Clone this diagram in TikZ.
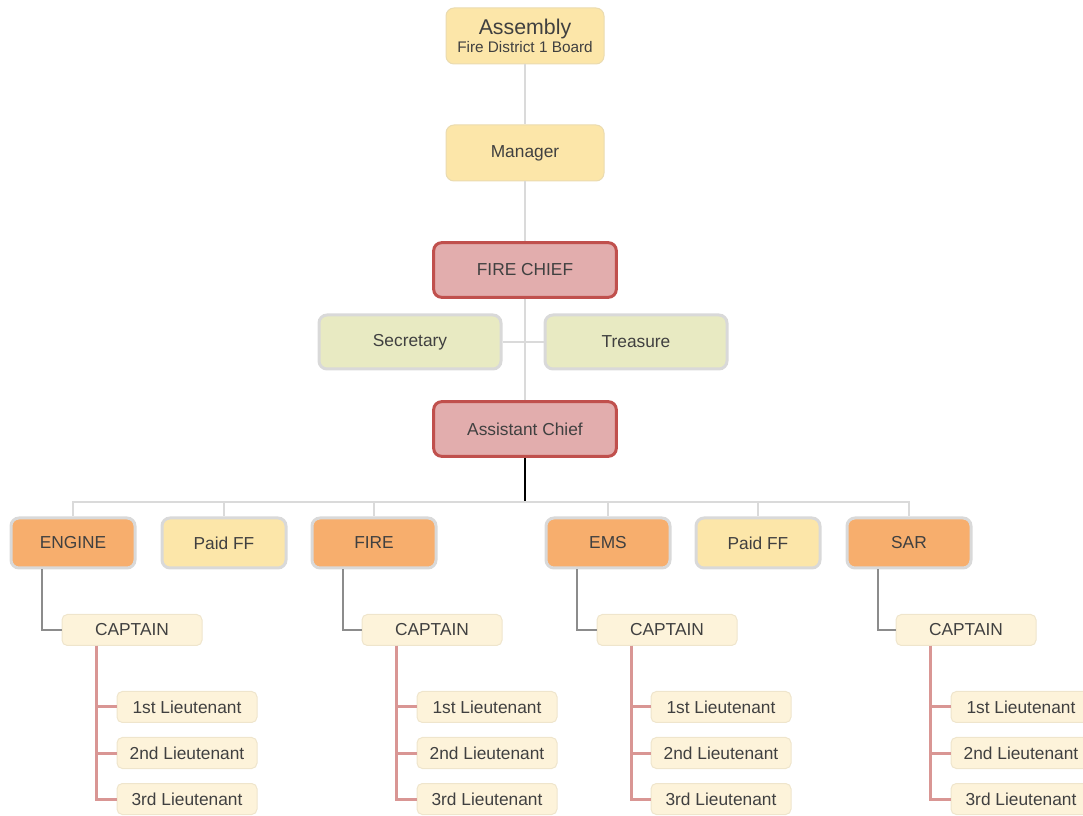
\documentclass[tikz,border=0pt]{standalone}
\usepackage{fontspec}
\setmainfont{Liberation Sans}

\definecolor{txt}{HTML}{404040}
\definecolor{cream}{HTML}{FCE6A9}
\definecolor{creamedge}{HTML}{EADBB0}
\definecolor{rose}{HTML}{E2ADAD}
\definecolor{roseedge}{HTML}{C0504D}
\definecolor{sage}{HTML}{E8EAC2}
\definecolor{grayedge}{HTML}{D9D9D9}
\definecolor{engineorange}{HTML}{F7AE6D}
\definecolor{paper}{HTML}{FDF3DA}
\definecolor{paperedge}{HTML}{EFE5CC}
\definecolor{tiegray}{HTML}{DADADA}
\definecolor{capgray}{HTML}{8C8C8C}
\definecolor{ltred}{HTML}{D99694}

\tikzset{every picture/.style={line width=0.75pt}}
\tikzset{
  box/.style={rounded corners=6pt, align=center, text=txt, inner sep=0pt,
    font=\fontsize{13}{15}\selectfont},
  topbox/.style={box, fill=cream, draw=creamedge, minimum width=118.5pt, minimum height=42pt},
  chiefbox/.style={box, fill=rose, draw=roseedge, line width=2.25pt, minimum width=137pt, minimum height=41pt},
  aidebox/.style={box, fill=sage, draw=grayedge, line width=2.25pt, minimum width=136.5pt, minimum height=40.5pt},
  deptbox/.style={box, fill=engineorange, draw=grayedge, line width=2.25pt, minimum width=93pt, minimum height=37.5pt},
  paidbox/.style={deptbox, fill=cream},
  rankbox/.style={box, rounded corners=4pt, fill=paper, draw=paperedge, minimum width=105pt, minimum height=23.25pt},
  tie/.style={draw=tiegray, line width=1.5pt},
  capline/.style={draw=capgray, line width=1.1pt},
  ltline/.style={draw=ltred, line width=2.25pt},
}

\begin{document}
\begin{tikzpicture}[x=0.75pt,y=0.75pt,yscale=-1,xscale=1]
\useasboundingbox (0,0) rectangle (1083,816);

% Top of the chart
\node [topbox] (asm) at (525,36) {{\fontsize{16}{17}\selectfont Assembly}\\[-1pt]{\fontsize{11.5}{12}\selectfont Fire District 1 Board}};
\node [topbox] (mgr) at (525,153) {Manager};
\node [chiefbox] (chief) at (525,270) {FIRE CHIEF};
\node [aidebox] (sec) at (410,342) {Secretary};
\node [aidebox] (tre) at (636,342) {Treasure};
\node [chiefbox] (asst) at (525,429) {Assistant Chief};

% Departments
\node [deptbox] (engine) at (73,543) {ENGINE};
\node [paidbox] (paidA) at (224,543) {Paid FF};
\node [deptbox] (fire) at (374,543) {FIRE};
\node [deptbox] (ems) at (608,543) {EMS};
\node [paidbox] (paidB) at (758,543) {Paid FF};
\node [deptbox] (sar) at (909,543) {SAR};

% Captains
\node [rankbox] (capA) at (132,630) {CAPTAIN};
\node [rankbox] (capB) at (432,630) {CAPTAIN};
\node [rankbox] (capC) at (667,630) {CAPTAIN};
\node [rankbox] (capD) at (966,630) {CAPTAIN};

% Lieutenants
\node [rankbox] (ltA1) at (187,707) {1st Lieutenant};
\node [rankbox] (ltA2) at (187,753) {2nd Lieutenant};
\node [rankbox] (ltA3) at (187,799) {3rd Lieutenant};
\node [rankbox] (ltB1) at (487,707) {1st Lieutenant};
\node [rankbox] (ltB2) at (487,753) {2nd Lieutenant};
\node [rankbox] (ltB3) at (487,799) {3rd Lieutenant};
\node [rankbox] (ltC1) at (721,707) {1st Lieutenant};
\node [rankbox] (ltC2) at (721,753) {2nd Lieutenant};
\node [rankbox] (ltC3) at (721,799) {3rd Lieutenant};
\node [rankbox] (ltD1) at (1021,707) {1st Lieutenant};
\node [rankbox] (ltD2) at (1021,753) {2nd Lieutenant};
\node [rankbox] (ltD3) at (1021,799) {3rd Lieutenant};

% Chain of command
\draw [tie] (asm) -- (mgr);
\draw [tie] (mgr) -- (chief);
\draw [tie] (chief) -- (asst);
\draw [tie] (sec) -- (tre);

% Bus to the departments
\coordinate (bus) at (525,502);
\draw [black, line width=0.9pt] (asst.south) -- (bus);
\draw [tie] (engine.north) -- (engine.north |- bus) -- (sar.north |- bus) -- (sar.north);
\foreach \d in {paidA,fire,ems,paidB}
  \draw [tie] (\d.north) -- (\d.north |- bus);

% Captains under departments
\draw [capline] ([xshift=-23.25pt]engine.south) |- (capA.west);
\draw [capline] ([xshift=-23.25pt]fire.south) |- (capB.west);
\draw [capline] ([xshift=-23.25pt]ems.south) |- (capC.west);
\draw [capline] ([xshift=-23.25pt]sar.south) |- (capD.west);

% Lieutenants under captains
\foreach \c in {A,B,C,D}
  \foreach \n in {1,2,3}
    \draw [ltline] ([xshift=26.25pt]cap\c.south west) |- (lt\c\n.west);

\end{tikzpicture}
\end{document}
